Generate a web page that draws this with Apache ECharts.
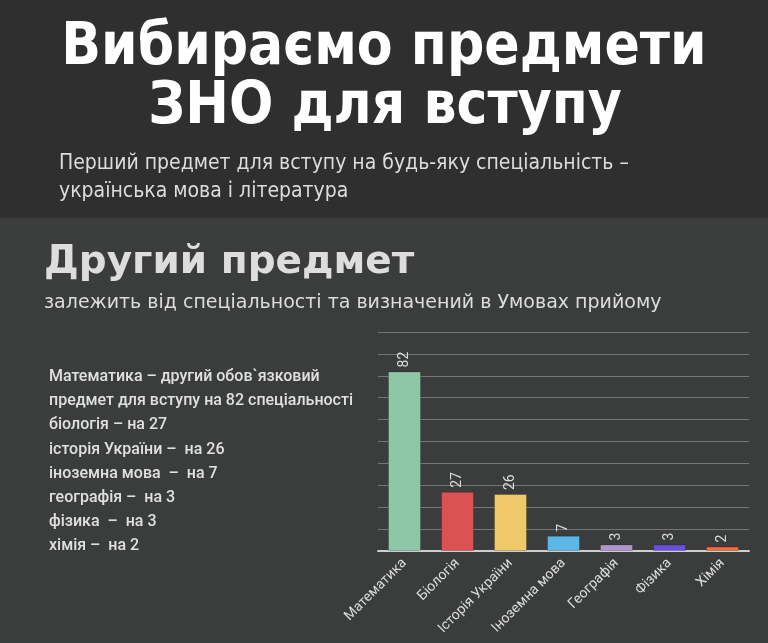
<!DOCTYPE html>
<html>
<head>
<meta charset="utf-8">
<script src="https://cdn.jsdelivr.net/npm/echarts@6/dist/echarts.min.js"></script>
<style>
  html, body { margin: 0; padding: 0; background: #3a3d3c; }
  #chart { width: 768px; height: 643px; }
</style>
</head>
<body>
<div id="chart"></div>
<script>
// дані
var categories = ['Математика', 'Біологія', 'Історія України', 'Іноземна мова', 'Географія', 'Фізика', 'Хімія'];
var values = [82, 27, 26, 7, 3, 3, 2];
var barColors = ['#8ec7a6', '#dc5254', '#f0c96a', '#5db7e6', '#b094cc', '#6b4fdc', '#f56b3c'];
var noteLines = [
    'Математика – другий обов`язковий',
    'предмет для вступу на 82 спеціальності',
    'біологія – на 27',
    'історія України –  на 26',
    'іноземна мова  –  на 7',
    'географія –  на 3',
    'фізика  –  на 3',
    'хімія –  на 2'
];

var chart = echarts.init(document.getElementById('chart'));

var graphics = [
    // темна шапка
    { type: 'rect', z: -10, shape: { x: 0, y: 0, width: 768, height: 218 }, style: { fill: '#2f2f2f' } },
    {
        type: 'text', x: 384, y: 49,
        style: { text: 'Вибираємо предмети', fill: '#ffffff', font: 'bold 58px "DejaVu Sans Condensed", "DejaVu Sans"', align: 'center', verticalAlign: 'middle' }
    },
    {
        type: 'text', x: 385, y: 108,
        style: { text: 'ЗНО для вступу', fill: '#ffffff', font: 'bold 58px "DejaVu Sans Condensed", "DejaVu Sans"', align: 'center', verticalAlign: 'middle' }
    },
    {
        type: 'text', x: 59, y: 164,
        style: { text: 'Перший предмет для вступу на будь-яку спеціальність –', fill: '#dddddd', font: '21px "DejaVu Sans Condensed", "DejaVu Sans"', verticalAlign: 'middle' }
    },
    {
        type: 'text', x: 59, y: 192,
        style: { text: 'українська мова і література', fill: '#dddddd', font: '21px "DejaVu Sans Condensed", "DejaVu Sans"', verticalAlign: 'middle' }
    },
    {
        type: 'text', x: 44, y: 263,
        style: { text: 'Другий предмет', fill: '#dddddd', font: 'bold 39px "DejaVu Sans"', verticalAlign: 'middle' }
    },
    {
        type: 'text', x: 44, y: 303,
        style: { text: 'залежить від спеціальності та визначений в Умовах прийому', fill: '#dddddd', font: '19px "DejaVu Sans"', verticalAlign: 'middle' }
    }
];

// текст зліва
noteLines.forEach(function (line, i) {
    graphics.push({
        type: 'text', x: 49, y: 377 + i * 24.2,
        style: { text: line, fill: '#e0e0e0', font: '500 16px Roboto', verticalAlign: 'middle' }
    });
});

var option = {
    backgroundColor: '#3a3d3c',
    animation: false,
    graphic: graphics,
    grid: { left: 378, right: 19, top: 332, bottom: 92, containLabel: false },
    xAxis: {
        type: 'category',
        data: categories,
        axisLine: { lineStyle: { color: '#cfcfcf', width: 2 } },
        axisTick: { show: false },
        axisLabel: { rotate: 45, color: '#dddddd', fontSize: 14, fontFamily: 'Roboto', margin: 10, interval: 0 }
    },
    yAxis: {
        type: 'value',
        min: 0, max: 100, interval: 10,
        axisLabel: { show: false },
        axisLine: { show: false },
        axisTick: { show: false },
        splitLine: { lineStyle: { color: '#767676', width: 1 } }
    },
    series: [{
        type: 'bar',
        barWidth: 33,
        data: values.map(function (v, i) {
            return { value: v, itemStyle: { color: barColors[i] } };
        }),
        itemStyle: { borderColor: 'rgba(0,0,0,0.2)', borderWidth: 1 },
        label: {
            show: true,
            position: 'top',
            rotate: 90,
            align: 'left',
            verticalAlign: 'middle',
            distance: 4,
            color: '#dddddd',
            fontSize: 14,
            fontFamily: 'Roboto'
        }
    }]
};

chart.setOption(option);
</script>
</body>
</html>
